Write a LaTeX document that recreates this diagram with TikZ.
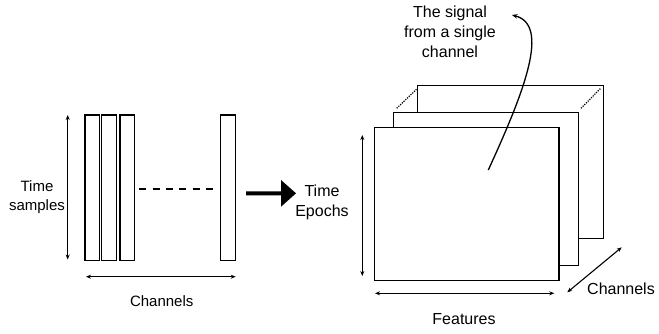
\documentclass[tikz,border=0pt]{standalone}
\usepackage{fontspec}
\setmainfont{Liberation Sans}
\usetikzlibrary{arrows.meta}
\begin{document}
\begin{tikzpicture}[x=1pt,y=-1pt,
  bar/.style={draw,line width=1.5pt,fill=white},
  dbl/.style={line width=1.1pt,{Stealth[length=5pt,width=4pt]}-{Stealth[length=5pt,width=4pt]}},
  sml/.style={font=\fontsize{15}{19}\selectfont,align=center,inner sep=0pt},
  big/.style={font=\fontsize{16}{20}\selectfont,align=center,inner sep=0pt}]
\useasboundingbox (0,0) rectangle (659,333);
% left bars
\draw[bar] (85,115) rectangle (99.3,260.7);
\draw[bar] (101.7,115) rectangle (116.3,260.7);
\draw[bar] (120,115) rectangle (134.7,260.7);
\draw[bar] (220.7,115) rectangle (235.7,260.7);
\coordinate (d1) at (139.3,189); \coordinate (d2) at (213,189);
\draw[line width=1.2pt,dash pattern=on 7pt off 6.3pt] (d1) -- (d2);
\coordinate (ta) at (67.7,115); \coordinate (tb) at (67.7,259.5);
\draw[dbl] (ta) -- (tb);
\node[sml] (ts) at (37,197.5) {Time\\samples};
\coordinate (ca) at (86,276.7); \coordinate (cb) at (235.7,276.7);
\draw[dbl] (ca) -- (cb);
\node[sml] (ch1) at (161.7,301) {Channels};
% big arrow
\fill (246,191.3) -- (281,191.3) -- (281,180) -- (296,193.3) -- (281,206.7) -- (281,195.3) -- (246,195.3) -- cycle;
\node[big] (te) at (322,202) {Time\\Epochs};
% stacked frames
\draw[bar] (417.7,85.7) rectangle (603.3,238.3);
\draw[bar] (393.3,112.7) rectangle (578.3,265.7);
\draw[bar] (374.3,127.7) rectangle (559,280.7);
\coordinate (m1) at (396.7,108.3); \coordinate (b1) at (416.5,89.3);
\coordinate (m2) at (581,108.3); \coordinate (b2) at (600.5,88.5);
\draw[line width=1.2pt,dash pattern=on 1.2pt off 1.2pt] (m1) -- (b1);
\draw[line width=1.2pt,dash pattern=on 1.2pt off 1.2pt] (m2) -- (b2);
\coordinate (ea) at (362.3,135); \coordinate (eb) at (362.3,276);
\draw[dbl] (ea) -- (eb);
\coordinate (fa) at (375,293.3); \coordinate (fb) at (554.3,293.3);
\draw[dbl] (fa) -- (fb);
\node[big] (feat) at (464,319) {Features};
\coordinate (ga) at (567.3,292.3); \coordinate (gb) at (621.7,247.3);
\draw[dbl] (ga) -- (gb);
\node[big] (ch2) at (621,288.5) {Channels};
% signal label and curved arrow
\node[big] (sig) at (450,31.7) {The signal\\from a single\\channel};
\coordinate (s0) at (488.3,170); \coordinate (s1) at (512,15);
\draw[line width=1.3pt,-{Stealth[length=5.5pt,width=4.5pt]}] (s0) .. controls (525,90) and (550,25) .. (s1);
\end{tikzpicture}
\end{document}
